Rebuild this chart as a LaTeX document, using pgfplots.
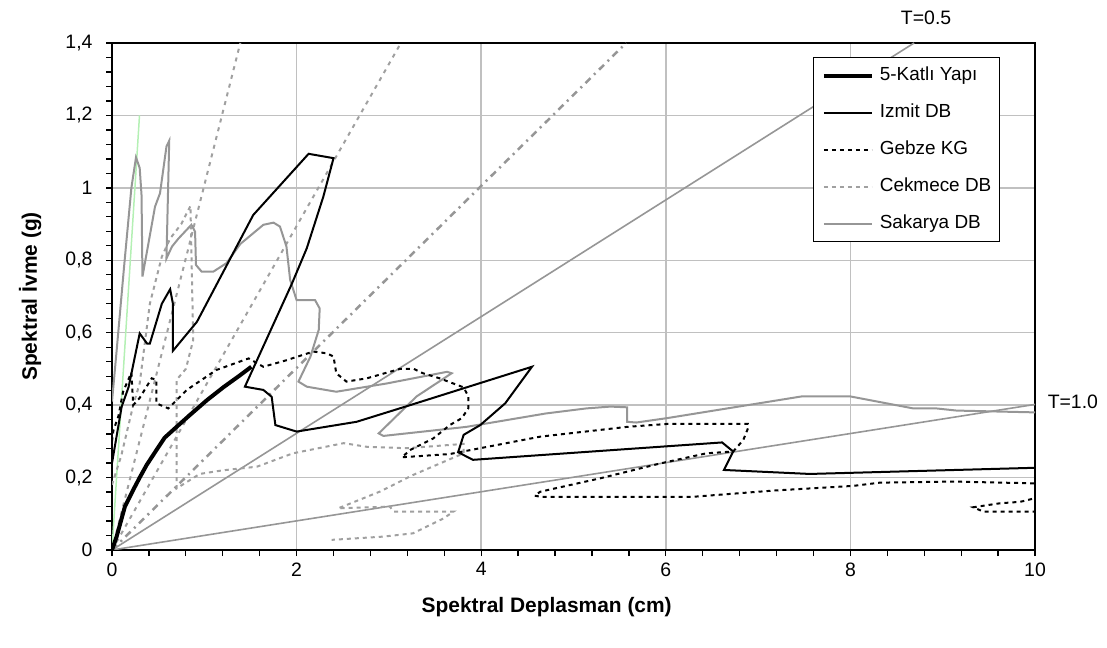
\documentclass[border=0pt]{standalone}
\usepackage{pgfplots}
\pgfplotsset{compat=1.18}
\usepackage{fontspec}
\setmainfont{Liberation Sans}
\definecolor{gridc}{HTML}{C0C0C0}
\definecolor{sak}{HTML}{969696}
\definecolor{cek}{HTML}{A0A0A0}
\definecolor{tl}{HTML}{969696}
\definecolor{tgreen}{HTML}{B4F0B4}
\begin{document}
\begin{tikzpicture}
\useasboundingbox (0,0) rectangle (1107bp,648bp);
\begin{axis}[
  at={(112bp,98bp)}, anchor=south west,
  scale only axis, width=923bp, height=507bp,
  xmin=0, xmax=10, ymin=0, ymax=1.4,
  xtick={0,2,4,6,8,10}, xticklabels={0,2,4,6,8,10},
  ytick={0,0.2,0.4,0.6,0.8,1,1.2,1.4},
  yticklabels={0,{0,2},{0,4},{0,6},{0,8},1,{1,2},{1,4}},
  minor x tick num=4, minor y tick num=4,
  grid=major, major grid style={color=gridc, line width=1.5bp},
  tick align=outside, tick pos=left,
  major tick length=6bp, minor tick length=6bp,
  every tick/.style={black, line width=1.3bp},
  axis line style={black, line width=1.5bp},
  /pgf/number format/assume math mode=true,
  ticklabel style={font=\fontsize{19.5}{22}\selectfont},
  yticklabel style={xshift=-10bp},
  xticklabel style={yshift=-3bp},
  xlabel={Spektral Deplasman (cm)},
  ylabel={Spektral İvme (g)},
  label style={font=\fontsize{21}{24}\selectfont\bfseries},
  xlabel style={at={(axis description cs:0.471,-0.112)}, anchor=center},
  ylabel style={at={(axis description cs:-0.0888,0.5)}, anchor=center},
  clip mode=individual,
  reverse legend,
  legend cell align=left,
  legend image code/.code={\draw[#1] (0bp,0bp) -- (48bp,0bp);},
  legend style={at={(rel axis cs:0.962,0.972)}, anchor=north east,
    draw=black, line width=1.2bp, fill=white,
    font=\fontsize{19}{22}\selectfont,
    row sep=19bp, inner xsep=8bp, inner ysep=9bp,
    nodes={inner sep=0pt, text height=14bp, text depth=4bp},
    /tikz/every odd column/.append style={column sep=6bp}},
]
% period lines
\addplot[forget plot, tgreen, line width=1.5bp] coordinates {(0,0) (0.298,1.2)};
\addplot[forget plot, cek, line width=2bp, dash pattern=on 4bp off 5bp] coordinates {(0,0) (1.39,1.4)};
\addplot[forget plot, cek, line width=2bp, dash pattern=on 4bp off 5bp] coordinates {(0,0) (3.13,1.4)};
\addplot[forget plot, tl, line width=2.5bp, dash pattern=on 7bp off 5bp on 2bp off 5bp] coordinates {(0,0) (5.57,1.4)};
\addplot[forget plot, tl, line width=1.6bp] coordinates {(0,0) (8.69,1.4)};
\addplot[forget plot, tl, line width=1.6bp] coordinates {(0,0) (10,0.402)};
% Sakarya DB
\addplot[sak, line width=2bp] coordinates {
(0,0.41) (0.05,0.55) (0.13,0.78) (0.21,1.0) (0.26,1.084) (0.30,1.055) (0.32,0.98) (0.33,0.755)
(0.376,0.82) (0.466,0.948) (0.52,0.985) (0.59,1.114) (0.62,1.13) (0.59,0.805) (0.65,0.838)
(0.72,0.86) (0.86,0.898) (0.90,0.879) (0.91,0.787) (0.97,0.769) (1.10,0.769) (1.24,0.792)
(1.39,0.845) (1.64,0.898) (1.75,0.904) (1.82,0.893) (1.89,0.838) (1.93,0.746) (2.0,0.69)
(2.20,0.69) (2.25,0.667) (2.24,0.608) (2.15,0.534) (2.02,0.465) (2.11,0.451) (2.43,0.437)
(2.98,0.46) (3.08,0.465) (3.63,0.492) (3.68,0.488) (3.30,0.424) (2.89,0.322) (2.94,0.315)
(3.84,0.34) (4.70,0.377) (5.14,0.391) (5.40,0.396) (5.58,0.394) (5.58,0.354) (5.68,0.352)
(6.01,0.364) (7.47,0.424) (8.0,0.424) (8.68,0.391) (8.93,0.391) (9.15,0.385) (10,0.38)};
\addlegendentry{Sakarya DB}
% Cekmece DB
\addplot[cek, line width=2bp, dash pattern=on 4bp off 4bp] coordinates {
(0,0.18) (0.10,0.26) (0.23,0.40) (0.30,0.46) (0.41,0.68) (0.54,0.81) (0.63,0.86) (0.75,0.90)
(0.85,0.95) (0.88,0.58) (0.80,0.50) (0.70,0.47) (0.70,0.17) (0.95,0.21) (1.2,0.22) (1.57,0.23)
(1.96,0.267) (2.51,0.295) (2.76,0.285) (3.19,0.281) (3.81,0.293) (3.81,0.267) (3.26,0.207)
(2.90,0.161) (2.45,0.115) (3.01,0.12) (3.05,0.106) (3.70,0.106) (3.59,0.087) (3.26,0.046)
(2.94,0.037) (2.38,0.028)};
\addlegendentry{Cekmece DB}
% Gebze KG
\addplot[black, line width=2bp, dash pattern=on 4bp off 4bp] coordinates {
(0,0.30) (0.015,0.33) (0.07,0.37) (0.12,0.437) (0.21,0.49) (0.23,0.40) (0.30,0.42) (0.43,0.474)
(0.48,0.47) (0.48,0.405) (0.61,0.391) (0.81,0.442) (1.13,0.497) (1.48,0.529) (1.64,0.506)
(1.89,0.524) (2.18,0.548) (2.33,0.543) (2.40,0.534) (2.43,0.488) (2.54,0.465) (2.76,0.474)
(3.12,0.50) (3.27,0.50) (3.37,0.488) (3.55,0.474) (3.81,0.449) (3.86,0.424) (3.86,0.391)
(3.79,0.364) (3.66,0.345) (3.48,0.308) (3.23,0.276) (3.14,0.256) (3.66,0.265) (4.64,0.313)
(5.58,0.34) (6.01,0.348) (6.89,0.348) (6.89,0.336) (6.84,0.304) (6.73,0.272) (6.44,0.267)
(5.94,0.239) (5.29,0.198) (4.64,0.161) (4.58,0.150) (4.64,0.147) (6.30,0.147) (7.16,0.164)
(8.03,0.177) (8.32,0.186) (9.11,0.189) (10,0.184) (10.2,0.17) (10,0.143) (9.84,0.133)
(9.62,0.129) (9.33,0.118) (9.44,0.106) (10,0.106)};
\addlegendentry{Gebze KG}
% Izmit DB
\addplot[black, line width=2bp] coordinates {
(0,0.24) (0.105,0.396) (0.18,0.45) (0.30,0.598) (0.38,0.57) (0.41,0.57) (0.54,0.68) (0.63,0.72)
(0.66,0.68) (0.66,0.55) (0.92,0.63) (1.53,0.925) (2.13,1.094) (2.40,1.082) (2.29,0.976)
(2.11,0.833) (1.95,0.736) (1.44,0.451) (1.64,0.442) (1.73,0.423) (1.77,0.345) (2.0,0.327)
(2.65,0.354) (3.23,0.40) (4.55,0.506) (4.26,0.405) (3.99,0.345) (3.81,0.318) (3.75,0.27)
(3.91,0.249) (4.64,0.262) (6.61,0.297) (6.73,0.272) (6.63,0.221) (7.56,0.21) (10,0.227)};
\addlegendentry{Izmit DB}
% 5-Katli Yapi
\addplot[black, line width=4bp] coordinates {
(0,0) (0.05,0.037) (0.14,0.12) (0.23,0.166) (0.30,0.20) (0.376,0.235) (0.466,0.27) (0.57,0.31)
(0.70,0.34) (0.845,0.373) (1.03,0.414) (1.21,0.45) (1.39,0.483) (1.51,0.506)};
\addlegendentry{5-Katlı Yapı}
\node[font=\fontsize{19.5}{22}\selectfont] at (axis cs:8.82,1.469) {T=0.5};
\node[font=\fontsize{19.5}{22}\selectfont, anchor=west] at (axis cs:10.1,0.409) {T=1.0};
\end{axis}
\end{tikzpicture}
\end{document}
